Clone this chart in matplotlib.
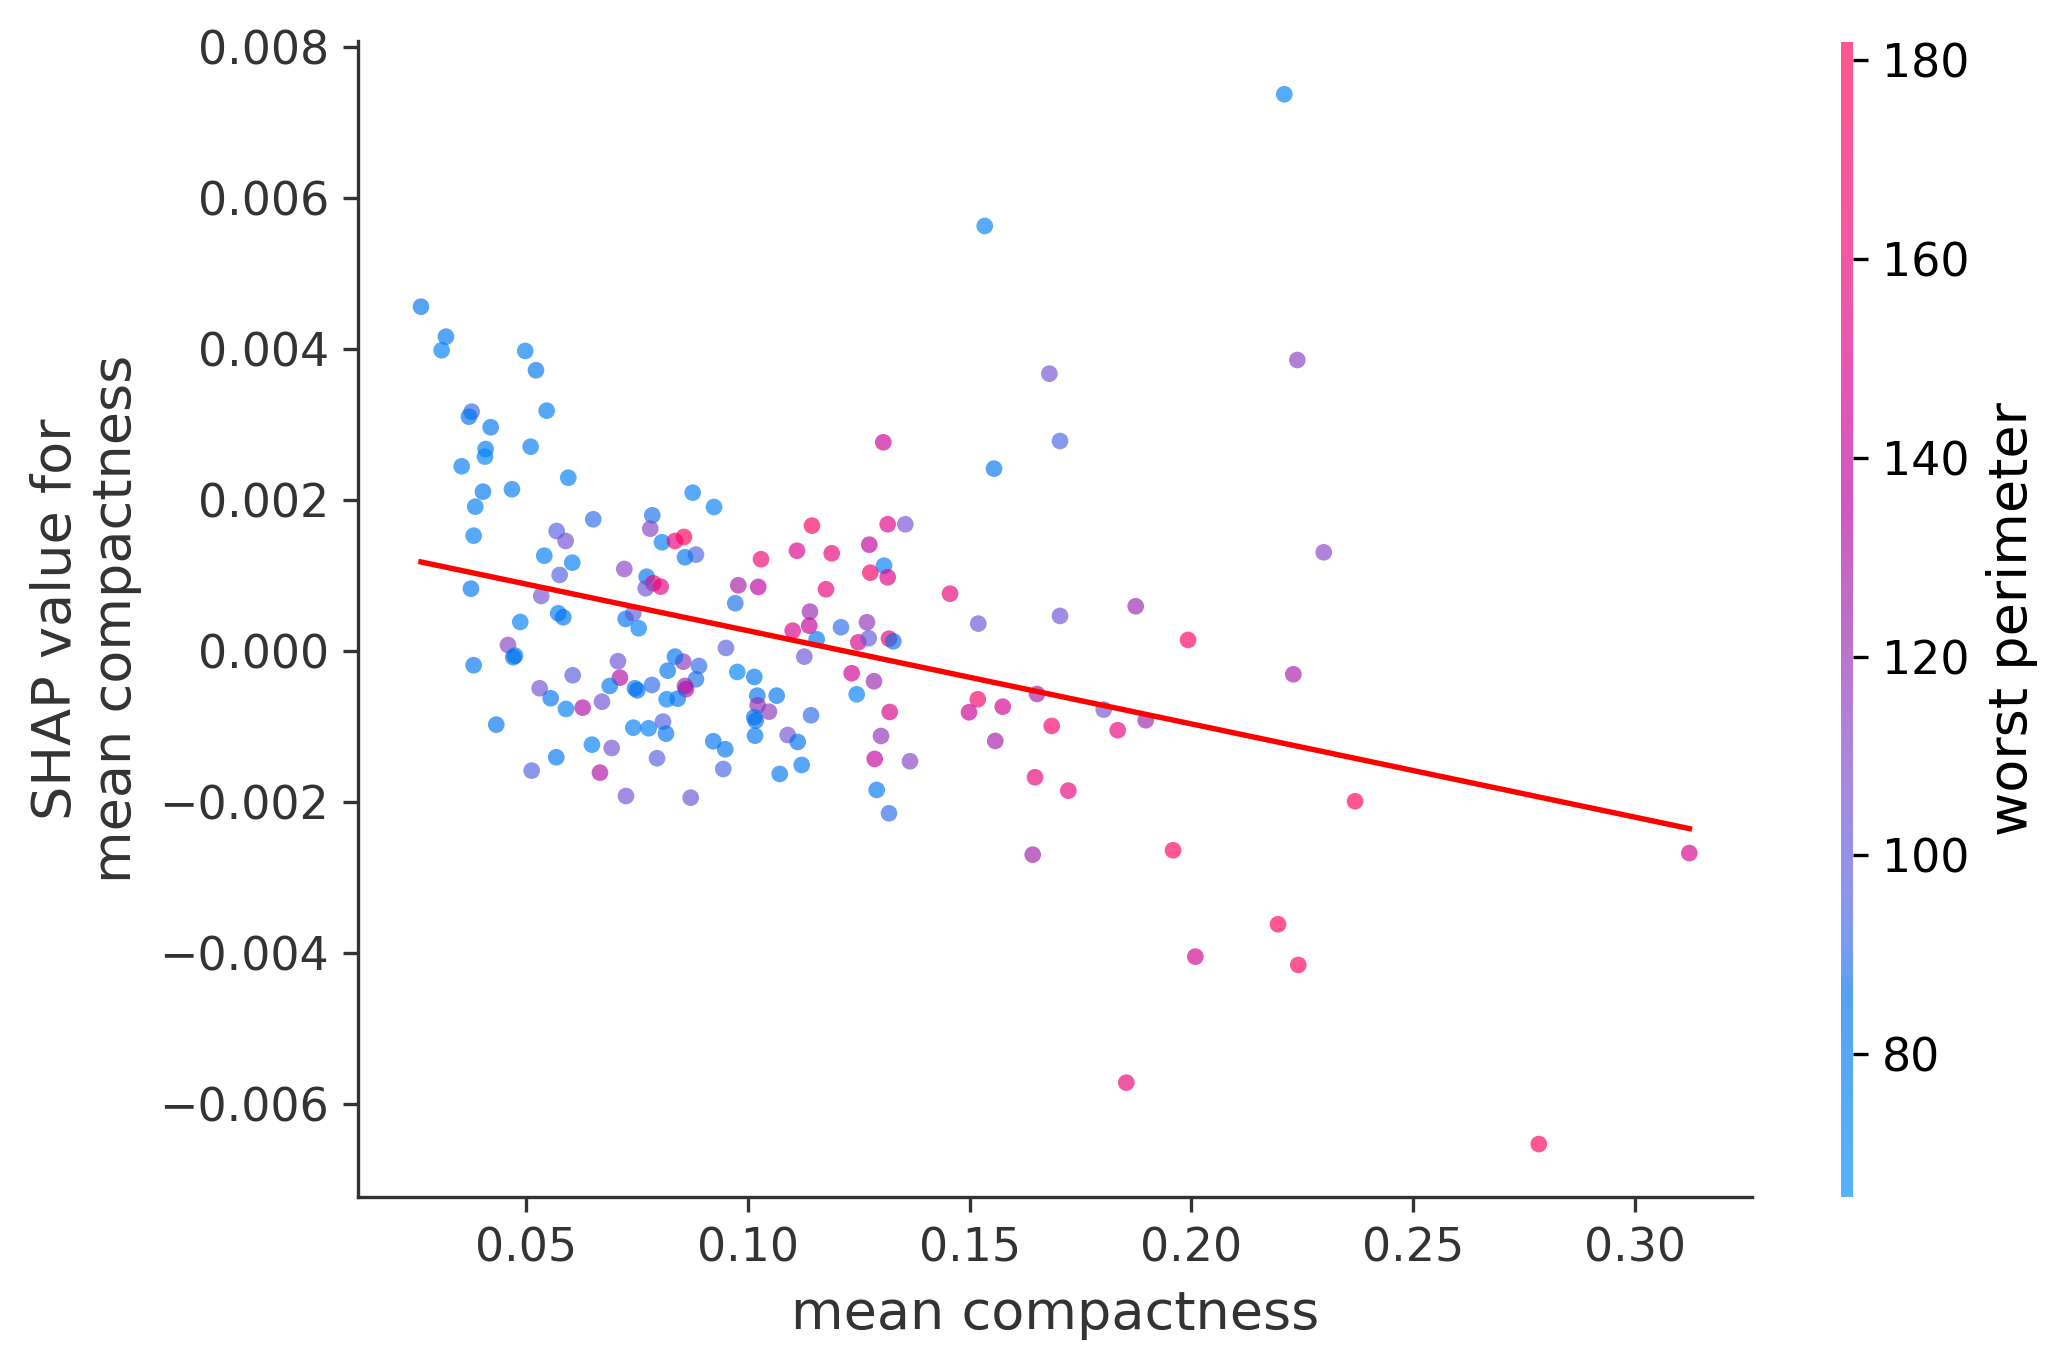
import numpy as np
import matplotlib
matplotlib.use("Agg")
import matplotlib.pyplot as plt
from matplotlib.colors import LinearSegmentedColormap

# feature values (mean compactness), SHAP values (x1e-3) and colour feature (worst perimeter)
mean_compactness = [
    0.02625, 0.03188, 0.03091, 0.04977, 0.05219, 0.03768, 0.03707, 0.05460, 0.04197, 0.04084,
    0.04068, 0.05099, 0.03543, 0.05948, 0.04023, 0.04677, 0.03849, 0.06511, 0.03813, 0.05686,
    0.05889, 0.07843, 0.07797, 0.08061, 0.08355, 0.05406, 0.06038,
    0.13054, 0.08754, 0.09235, 0.11445, 0.13153, 0.13550, 0.08558, 0.10295, 0.11107, 0.11890,
    0.12738, 0.13070,
    0.12761, 0.13153, 0.14559, 0.09783, 0.10234, 0.09715, 0.11761, 0.11400, 0.11384, 0.11010,
    0.11551, 0.12100, 0.12686, 0.12490, 0.12725, 0.13182, 0.13280, 0.11272, 0.09505, 0.08542,
    0.08896, 0.08828, 0.08580, 0.08603, 0.08416, 0.09760, 0.10144, 0.10211, 0.10649, 0.10220,
    0.10475, 0.10144, 0.10175, 0.10160, 0.11423, 0.12341, 0.12844, 0.12454, 0.13198, 0.13002,
    0.12860, 0.13656, 0.12905, 0.13182, 0.10897, 0.11123, 0.09219, 0.09489, 0.09444, 0.10717,
    0.11213, 0.08709, 0.08828, 0.08580, 0.08355, 0.08190,
    0.05753, 0.07211, 0.07716, 0.07865, 0.08032, 0.07694, 0.03752, 0.05338, 0.05722, 0.05835,
    0.04865, 0.07242, 0.07414, 0.07536, 0.04587, 0.04707, 0.04745, 0.03813, 0.06047, 0.07069,
    0.07114, 0.05302, 0.05550, 0.05896, 0.06272, 0.06708, 0.06882, 0.07452, 0.07504, 0.07836,
    0.08167, 0.04323, 0.07414, 0.07761, 0.08084, 0.08152, 0.06482, 0.06927, 0.05677, 0.07949,
    0.05122, 0.06663, 0.07249,
    0.17040, 0.15551, 0.22989, 0.15197, 0.17040, 0.18748, 0.19928, 0.22304, 0.15184, 0.14987,
    0.15748, 0.16521, 0.16853, 0.18026, 0.18342, 0.18974, 0.15580, 0.16476, 0.17228,
    0.22100, 0.15342, 0.16800, 0.22394,
    0.16424, 0.19590, 0.21958, 0.20093, 0.22416, 0.18536,
    0.23696, 0.31237, 0.27840,
]

shap_e3 = [
    4.560, 4.163, 3.983, 3.974, 3.718, 3.170, 3.103, 3.183, 2.963, 2.675,
    2.574, 2.706, 2.446, 2.295, 2.110, 2.142, 1.911, 1.744, 1.527, 1.589,
    1.457, 1.797, 1.620, 1.440, 1.457, 1.262, 1.170,
    2.764, 2.097, 1.907, 1.660, 1.678, 1.678, 1.510, 1.215, 1.328, 1.294,
    1.408, 1.130,
    1.037, 0.976, 0.759, 0.870, 0.848, 0.632, 0.817, 0.521, 0.335, 0.269,
    0.155, 0.314, 0.380, 0.115, 0.168, 0.163, 0.128, -0.075, 0.040, -0.142,
    -0.199, -0.375, -0.464, -0.507, -0.632, -0.278, -0.344, -0.592, -0.592, -0.719,
    -0.804, -0.878, -0.923, -1.122, -0.852, -0.295, -0.401, -0.574, -0.808, -1.126,
    -1.430, -1.461, -1.841, -2.150, -1.113, -1.205, -1.196, -1.302, -1.563, -1.629,
    -1.510, -1.943, 1.276, 1.241, -0.075, -0.261,
    1.007, 1.086, 0.984, 0.897, 0.852, 0.830, 0.825, 0.728, 0.499, 0.446,
    0.384, 0.424, 0.499, 0.301, 0.079, -0.083, -0.062, -0.189, -0.322, -0.136,
    -0.354, -0.494, -0.626, -0.768, -0.751, -0.672, -0.464, -0.494, -0.521, -0.450,
    -0.640, -0.976, -1.016, -1.024, -0.936, -1.095, -1.241, -1.285, -1.408, -1.421,
    -1.585, -1.612, -1.921,
    2.781, 2.415, 1.307, 0.362, 0.464, 0.592, 0.146, -0.309, -0.640, -0.812,
    -0.738, -0.570, -0.993, -0.777, -1.050, -0.918, -1.192, -1.673, -1.850,
    7.374, 5.629, 3.673, 3.854,
    -2.698, -2.640, -3.620, -4.049, -4.159, -5.718,
    -1.991, -2.677, -6.532,
]

worst_perimeter = [
    82, 83, 76, 76, 83, 90, 85, 77, 84, 76,
    74, 77, 77, 76, 83, 77, 77, 90, 76, 97,
    105, 88, 112, 76, 160, 78, 76,
    142, 76, 76, 172, 152, 106, 178, 163, 150, 160,
    138, 76,
    170, 150, 160, 128, 136, 88, 158, 122, 140, 150,
    84, 90, 118, 150, 100, 168, 86, 104, 98, 118,
    90, 88, 122, 132, 84, 74, 84, 84, 84, 120,
    116, 84, 86, 84, 90, 145, 122, 76, 150, 118,
    138, 112, 80, 90, 106, 84, 84, 84, 94, 82,
    80, 104, 96, 82, 84, 84,
    96, 112, 84, 165, 155, 104, 84, 106, 80, 84,
    74, 84, 100, 76, 112, 84, 84, 84, 98, 104,
    132, 106, 84, 76, 132, 104, 84, 84, 86, 90,
    76, 84, 76, 76, 96, 84, 76, 106, 84, 98,
    96, 132, 106,
    94, 82, 112, 104, 104, 122, 172, 128, 168, 142,
    145, 126, 168, 106, 158, 124, 128, 160, 160,
    74, 74, 106, 114,
    126, 176, 176, 146, 176, 160,
    176, 148, 176,
]

color_min, color_max = 65.6, 181.9
cbar_ticks = [80, 100, 120, 140, 160, 180]


def lch_to_rgb(l, c, h):
    # Lch -> Lab -> XYZ (D65) -> sRGB
    a, b = c * np.cos(h), c * np.sin(h)
    fy = (l + 16.0) / 116.0
    f = np.array([a / 500.0 + fy, fy, fy - b / 200.0])
    xyz = np.where(f > 0.2068966, f ** 3, (f - 16.0 / 116.0) / 7.787)
    xyz = xyz * np.array([0.95047, 1.0, 1.08883])
    m = np.array([[3.24048134, -1.53715152, -0.49853633],
                  [-0.96925495, 1.87599, 0.04155593],
                  [0.05564664, -0.20404134, 1.05731107]])
    rgb = m @ xyz
    rgb = np.clip(rgb, 0, None)
    rgb = np.where(rgb > 0.0031308, 1.055 * rgb ** (1 / 2.4) - 0.055, 12.92 * rgb)
    return np.clip(rgb, 0, 1)


# shap-like red/blue colour map
nsteps = 100
l_vals = list(np.linspace(54., 40., nsteps // 2)) + list(np.linspace(40., 54., nsteps // 2))
c_vals = np.linspace(70., 90., nsteps)
h_vals = np.linspace(4.6588, 0.35470565 + 2 * np.pi, nsteps)
red_blue = LinearSegmentedColormap.from_list(
    "red_blue", [lch_to_rgb(l, c, h) for l, c, h in zip(l_vals, c_vals, h_vals)])

x = np.array(mean_compactness)
y = np.array(shap_e3) * 1e-3
c = np.array(worst_perimeter)

axis_color = "#333333"
fig = plt.figure(figsize=(2069 / 300, 1370 / 300), dpi=300)
ax = fig.add_axes([0.1730, 0.1261, 0.6740, 0.8440])
cax = fig.add_axes([0.8897, 0.1261, 0.0058, 0.8436])

p = ax.scatter(x, y, c=c, cmap=red_blue, vmin=color_min, vmax=color_max,
               s=16, linewidth=0, alpha=0.66)

# linear trend line
coef = np.polyfit(x, y, 1)
xs = np.array([x.min(), x.max()])
ax.plot(xs, np.polyval(coef, xs), color="red", linewidth=1.3)

ax.set_xlim(0.01203, 0.3266)
ax.set_ylim(-0.007236, 0.00808)
ax.set_xlabel("mean compactness", fontsize=13, color=axis_color)
ax.set_ylabel("SHAP value for\nmean compactness", fontsize=13, color=axis_color)
ax.spines["right"].set_visible(False)
ax.spines["top"].set_visible(False)
ax.spines["left"].set_color(axis_color)
ax.spines["bottom"].set_color(axis_color)
ax.tick_params(color=axis_color, labelcolor=axis_color, labelsize=11)

cb = fig.colorbar(p, cax=cax, ticks=cbar_ticks)
cb.set_label("worst perimeter", size=13)
cb.ax.tick_params(labelsize=11)
cb.outline.set_visible(False)

fig.savefig("out.png", dpi=300)
